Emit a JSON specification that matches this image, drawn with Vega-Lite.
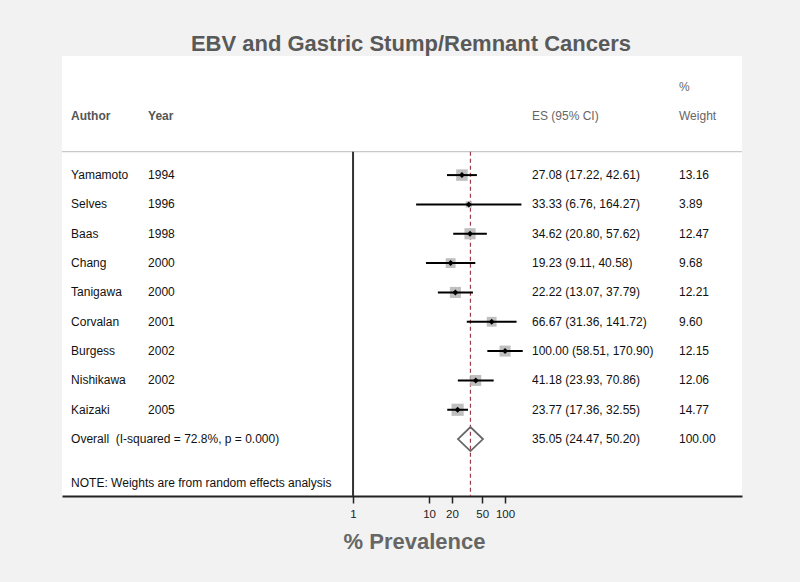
{
  "$schema": "https://vega.github.io/schema/vega-lite/v6.json",
  "width": 680,
  "height": 440,
  "autosize": {"type": "none"},
  "padding": {"left": 62, "right": 58, "top": 56, "bottom": 86},
  "background": "#f2f2f2",
  "config": {
    "view": {"fill": "white", "stroke": null},
    "font": "Liberation Sans",
    "text": {"font": "Liberation Sans", "fontSize": 12, "color": "#111111", "align": "left", "baseline": "middle"}
  },
  "title": {
    "text": "EBV and Gastric Stump/Remnant Cancers",
    "fontSize": 22,
    "fontWeight": "bold",
    "color": "#595959",
    "font": "Liberation Sans",
    "anchor": "middle",
    "baseline": "bottom",
    "offset": 1,
    "dx": 9,
    "dy": 23
  },
  "datasets": {
    "studies": [
      {"author": "Yamamoto", "year": "1994", "es": 27.08, "lo": 17.22, "hi": 42.61, "weight": 13.16, "es_ci": "27.08 (17.22, 42.61)", "row": 4},
      {"author": "Selves", "year": "1996", "es": 33.33, "lo": 6.76, "hi": 164.27, "weight": 3.89, "es_ci": "33.33 (6.76, 164.27)", "row": 5},
      {"author": "Baas", "year": "1998", "es": 34.62, "lo": 20.80, "hi": 57.62, "weight": 12.47, "es_ci": "34.62 (20.80, 57.62)", "row": 6},
      {"author": "Chang", "year": "2000", "es": 19.23, "lo": 9.11, "hi": 40.58, "weight": 9.68, "es_ci": "19.23 (9.11, 40.58)", "row": 7},
      {"author": "Tanigawa", "year": "2000", "es": 22.22, "lo": 13.07, "hi": 37.79, "weight": 12.21, "es_ci": "22.22 (13.07, 37.79)", "row": 8},
      {"author": "Corvalan", "year": "2001", "es": 66.67, "lo": 31.36, "hi": 141.72, "weight": 9.60, "es_ci": "66.67 (31.36, 141.72)", "row": 9},
      {"author": "Burgess", "year": "2002", "es": 100.00, "lo": 58.51, "hi": 170.90, "weight": 12.15, "es_ci": "100.00 (58.51, 170.90)", "row": 10},
      {"author": "Nishikawa", "year": "2002", "es": 41.18, "lo": 23.93, "hi": 70.86, "weight": 12.06, "es_ci": "41.18 (23.93, 70.86)", "row": 11},
      {"author": "Kaizaki", "year": "2005", "es": 23.77, "lo": 17.36, "hi": 32.55, "weight": 14.77, "es_ci": "23.77 (17.36, 32.55)", "row": 12}
    ],
    "overall": [
      {"label": "Overall\u00a0 (I-squared = 72.8%, p = 0.000)", "es": 35.05, "lo": 24.47, "hi": 50.20, "weight": 100.00, "es_ci": "35.05 (24.47, 50.20)", "row": 13}
    ],
    "notes": [
      {"text": "NOTE: Weights are from random effects analysis", "row": 14.5}
    ],
    "headers": [
      {"text": "Author", "column": "author", "row": 2},
      {"text": "Year", "column": "year", "row": 2},
      {"text": "ES (95% CI)", "column": "es", "row": 2},
      {"text": "%", "column": "weight", "row": 1},
      {"text": "Weight", "column": "weight", "row": 2}
    ]
  },
  "data": {"name": "studies"},
  "layer": [
    {
      "data": {"values": [{}]},
      "mark": {"type": "rule", "color": "#c8c8c8", "strokeWidth": 1.2},
      "encoding": {
        "y": {"datum": 3.2, "type": "quantitative", "scale": {"domain": [-0.06, 14.94], "reverse": true, "nice": false, "zero": false}, "axis": null}
      }
    },
    {
      "data": {"values": [{}]},
      "mark": {"type": "rule", "color": "#333333", "strokeWidth": 2},
      "encoding": {
        "x": {"datum": 1, "type": "quantitative", "scale": {"type": "log", "domain": [0.000148, 131200], "nice": false, "zero": false},
          "axis": {
            "values": [1, 10, 20, 50, 100],
            "format": "d",
            "labelFont": "Liberation Sans",
            "labelFontSize": 11.5,
            "labelColor": "#222222",
            "labelPadding": 5,
            "labelFlush": false,
            "labelOverlap": false,
            "tickColor": "#222222",
            "tickSize": 7,
            "tickWidth": 1.5,
            "domainColor": "#222222",
            "domainWidth": 2,
            "grid": false,
            "title": "% Prevalence",
            "titleFont": "Liberation Sans",
            "titleFontSize": 22,
            "titleFontWeight": "bold",
            "titleColor": "#666666",
            "titleAlign": "center",
            "titleBaseline": "alphabetic",
            "titleX": 352,
            "titleY": 52
          }
        },
        "y": {"datum": 3.2, "type": "quantitative"},
        "y2": {"datum": 14.94}
      }
    },
    {
      "data": {"name": "overall"},
      "mark": {"type": "rule", "color": "#9c3a48", "strokeWidth": 1.2, "strokeDash": [4, 3]},
      "encoding": {
        "x": {"field": "es", "type": "quantitative"},
        "y": {"datum": 3.2, "type": "quantitative"},
        "y2": {"datum": 14.94}
      }
    },
    {
      "mark": {"type": "point", "shape": "square", "filled": true, "color": "#bfbfbf", "opacity": 1},
      "encoding": {
        "x": {"field": "es", "type": "quantitative"},
        "y": {"field": "row", "type": "quantitative"},
        "size": {"field": "weight", "type": "quantitative", "scale": {"type": "linear", "domain": [0, 15], "range": [0, 150], "zero": true}, "legend": null}
      }
    },
    {
      "mark": {"type": "rule", "color": "#000000", "strokeWidth": 2},
      "encoding": {
        "x": {"field": "lo", "type": "quantitative"},
        "x2": {"field": "hi"},
        "y": {"field": "row", "type": "quantitative"}
      }
    },
    {
      "mark": {"type": "point", "shape": "diamond", "filled": true, "color": "#000000", "size": 36, "opacity": 1},
      "encoding": {
        "x": {"field": "es", "type": "quantitative"},
        "y": {"field": "row", "type": "quantitative"}
      }
    },
    {
      "data": {"name": "overall"},
      "mark": {"type": "point", "shape": "M-1,0L0,-0.96L1,0L0,0.96Z", "filled": false, "stroke": "#666666", "strokeWidth": 1.8, "size": 625, "opacity": 1},
      "encoding": {
        "x": {"field": "es", "type": "quantitative"},
        "y": {"field": "row", "type": "quantitative"}
      }
    },
    {
      "mark": {"type": "text"},
      "encoding": {
        "x": {"datum": 0.000195, "type": "quantitative"},
        "y": {"field": "row", "type": "quantitative"},
        "text": {"field": "author"}
      }
    },
    {
      "mark": {"type": "text"},
      "encoding": {
        "x": {"datum": 0.00201, "type": "quantitative"},
        "y": {"field": "row", "type": "quantitative"},
        "text": {"field": "year"}
      }
    },
    {
      "mark": {"type": "text"},
      "encoding": {
        "x": {"datum": 226, "type": "quantitative"},
        "y": {"field": "row", "type": "quantitative"},
        "text": {"field": "es_ci"}
      }
    },
    {
      "mark": {"type": "text"},
      "encoding": {
        "x": {"datum": 19460, "type": "quantitative"},
        "y": {"field": "row", "type": "quantitative"},
        "text": {"field": "weight", "format": ".2f"}
      }
    },
    {
      "data": {"name": "overall"},
      "mark": {"type": "text"},
      "encoding": {
        "x": {"datum": 0.000195, "type": "quantitative"},
        "y": {"field": "row", "type": "quantitative"},
        "text": {"field": "label"}
      }
    },
    {
      "data": {"name": "overall"},
      "mark": {"type": "text"},
      "encoding": {
        "x": {"datum": 226, "type": "quantitative"},
        "y": {"field": "row", "type": "quantitative"},
        "text": {"field": "es_ci"}
      }
    },
    {
      "data": {"name": "overall"},
      "mark": {"type": "text"},
      "encoding": {
        "x": {"datum": 19460, "type": "quantitative"},
        "y": {"field": "row", "type": "quantitative"},
        "text": {"field": "weight", "format": ".2f"}
      }
    },
    {
      "data": {"name": "notes"},
      "mark": {"type": "text"},
      "encoding": {
        "x": {"datum": 0.000195, "type": "quantitative"},
        "y": {"field": "row", "type": "quantitative"},
        "text": {"field": "text"}
      }
    },
    {
      "data": {"name": "headers"},
      "transform": [{"filter": "datum.column === 'author'"}],
      "mark": {"type": "text", "color": "#555555", "fontWeight": "bold"},
      "encoding": {
        "x": {"datum": 0.000195, "type": "quantitative"},
        "y": {"field": "row", "type": "quantitative"},
        "text": {"field": "text"}
      }
    },
    {
      "data": {"name": "headers"},
      "transform": [{"filter": "datum.column === 'year'"}],
      "mark": {"type": "text", "color": "#555555", "fontWeight": "bold"},
      "encoding": {
        "x": {"datum": 0.00201, "type": "quantitative"},
        "y": {"field": "row", "type": "quantitative"},
        "text": {"field": "text"}
      }
    },
    {
      "data": {"name": "headers"},
      "transform": [{"filter": "datum.column === 'es'"}],
      "mark": {"type": "text", "color": "#666666"},
      "encoding": {
        "x": {"datum": 226, "type": "quantitative"},
        "y": {"field": "row", "type": "quantitative"},
        "text": {"field": "text"}
      }
    },
    {
      "data": {"name": "headers"},
      "transform": [{"filter": "datum.column === 'weight'"}],
      "mark": {"type": "text", "color": "#666666"},
      "encoding": {
        "x": {"datum": 19460, "type": "quantitative"},
        "y": {"field": "row", "type": "quantitative"},
        "text": {"field": "text"}
      }
    }
  ]
}
